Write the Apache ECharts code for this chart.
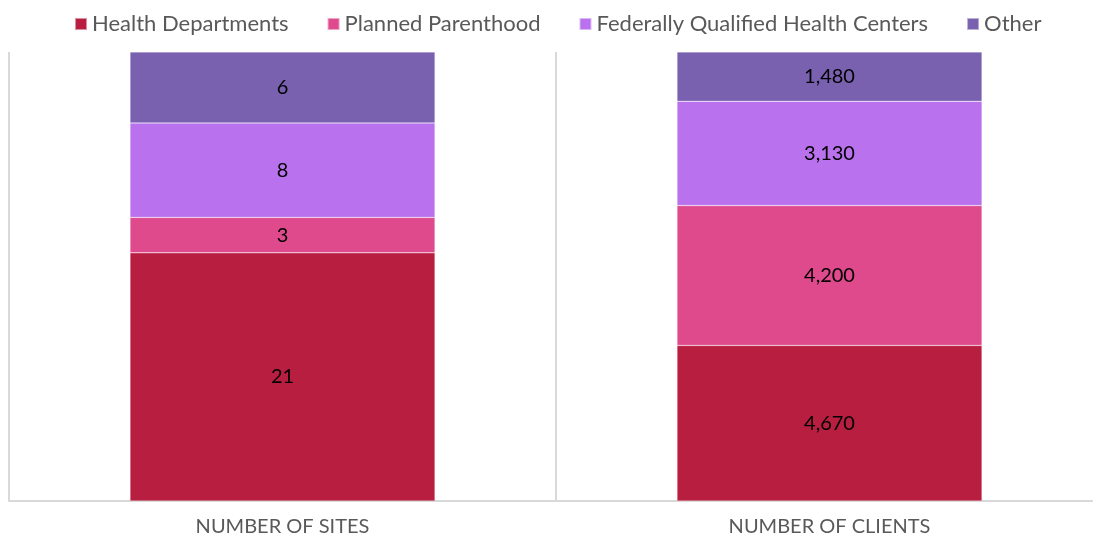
<!DOCTYPE html>
<html><head><meta charset="utf-8">
<script src="https://cdn.jsdelivr.net/npm/echarts@6/dist/echarts.min.js"></script>
<style>html,body{margin:0;padding:0;background:#fff}#c{width:1093px;height:540px}</style>
</head><body><div id="c"></div>
<script>
const categories = ['NUMBER OF SITES', 'NUMBER OF CLIENTS'];
const seriesNames = ['Health Departments', 'Planned Parenthood', 'Federally Qualified Health Centers', 'Other'];
const healthDepartments = [21, 4670];
const plannedParenthood = [3, 4200];
const fqhc = [8, 3130];
const other = [6, 1480];
const colors = ['#B81E40', '#DF4A8D', '#B971EE', '#7961B0'];

const raw = [healthDepartments, plannedParenthood, fqhc, other];
const totals = categories.map((_, i) => raw.reduce((s, a) => s + a[i], 0));

const chart = echarts.init(document.getElementById('c'));
chart.setOption({
  animation: false,
  textStyle: { fontFamily: 'Lato' },
  legend: {
    top: 8, left: 69,
    itemWidth: 12, itemHeight: 12, itemGap: 38,
    icon: 'rect',
    textStyle: { fontSize: 22, color: '#595959', fontFamily: 'Lato' },
    data: seriesNames
  },
  grid: { left: 9, width: 1094, top: 52, bottom: 39, outerBoundsMode: 'none', containLabel: false },
  xAxis: {
    type: 'category', data: categories,
    axisLine: { lineStyle: { color: '#d9d9d9', width: 2 } },
    axisTick: { show: false },
    splitLine: { show: true, lineStyle: { color: '#d9d9d9', width: 2 } },
    axisLabel: { fontSize: 20, color: '#595959', margin: 16, fontFamily: 'Lato' }
  },
  yAxis: { type: 'value', min: 0, max: 100, show: false, splitLine: { show: false } },
  series: raw.map((arr, k) => ({
    name: seriesNames[k], type: 'bar', stack: 'total',
    barWidth: 305,
    itemStyle: { color: colors[k], borderColor: 'rgba(255,255,255,0.5)', borderWidth: 0.5 },
    label: {
      show: true, position: 'inside', fontSize: 20, color: '#000', fontFamily: 'Lato',
      formatter: p => arr[p.dataIndex].toLocaleString('en-US')
    },
    data: arr.map((v, i) => v / totals[i] * 100)
  }))
});
</script></body></html>
